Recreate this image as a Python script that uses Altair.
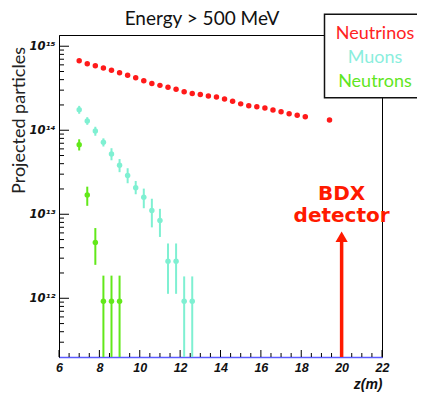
import altair as alt
import pandas as pd

# ---------------- data ----------------
nu_z = [7.0, 7.4, 7.8, 8.2, 8.6, 9.0, 9.4, 9.8, 10.2, 10.6, 11.0, 11.4, 11.8, 12.2, 12.6,
        13.0, 13.4, 13.8, 14.2, 14.6, 15.0, 15.4, 15.8, 16.2, 16.6, 17.0, 17.4, 17.8, 18.2, 19.4]
nu_y = [6.72e14, 6.20e14, 5.87e14, 5.52e14, 5.17e14, 4.82e14, 4.52e14, 4.21e14, 3.88e14, 3.61e14,
        3.42e14, 3.24e14, 3.07e14, 2.88e14, 2.73e14, 2.66e14, 2.56e14, 2.49e14, 2.36e14, 2.22e14,
        2.06e14, 1.96e14, 1.90e14, 1.84e14, 1.74e14, 1.66e14, 1.57e14, 1.51e14, 1.45e14, 1.32e14]

mu_z = [7.0, 7.4, 7.8, 8.2, 8.6, 9.0, 9.4, 9.8, 10.2, 10.6, 11.0, 11.4, 11.8, 12.2, 12.6]
mu_y = [1.75e14, 1.29e14, 9.8e13, 7.19e13, 5.20e13, 3.83e13, 2.90e13, 2.07e13, 1.59e13, 1.105e13,
        8.44e12, 2.75e12, 2.75e12, 9.2e11, 9.2e11]
mu_hi = [1.95e14, 1.43e14, 1.10e14, 8.01e13, 6.11e13, 4.54e13, 3.53e13, 2.49e13, 2.02e13, 1.53e13,
         1.16e13, 4.49e12, 4.49e12, 1.82e12, 1.82e12]
mu_lo = [1.57e14, 1.16e14, 8.6e13, 6.40e13, 4.39e13, 3.17e13, 2.34e13, 1.73e13, 1.18e13, 6.98e12,
         5.37e12, 1.13e12, 1.13e12, 1e11, 1e11]

n_z = [7.0, 7.4, 7.8, 8.2, 8.6, 9.0]
n_y = [6.70e13, 1.69e13, 4.62e12, 9.2e11, 9.2e11, 9.2e11]
n_hi = [7.80e13, 2.13e13, 6.85e12, 1.86e12, 1.86e12, 1.86e12]
n_lo = [5.74e13, 1.26e13, 2.50e12, 1e11, 1e11, 1e11]

series_names = ["Neutrinos", "Muons", "Neutrons"]
series_colors = ["#ff1a1a", "#7ff0d2", "#62e81a"]
legend_text_colors = ["#ff2222", "#8aeedd", "#5fe61f"]

x_tick_labels = [6, 8, 10, 12, 14, 16, 18, 20, 22]
x_minor_ticks = [6.5, 7, 7.5, 8.5, 9, 9.5, 10.5, 11, 11.5, 12.5, 13, 13.5, 14.5, 15, 15.5,
                 16.5, 17, 17.5, 18.5, 19, 19.5, 20.5, 21, 21.5]
y_tick_labels = [1e12, 1e13, 1e14, 1e15]
y_minor_mult = [2, 3, 4, 5, 6, 7, 8, 9]
y_minor_decades = [1e11, 1e12, 1e13, 1e14]
y_minor_ticks = [m * d for d in y_minor_decades for m in y_minor_mult if m * d > 2.05e11]

detector_z = 20
detector_top = 4.66e12
arrow_y = 5.4e12

# ---------------- frames ----------------
nu = pd.DataFrame({"z": nu_z, "y": nu_y, "s": series_names[0]})
mu = pd.DataFrame({"z": mu_z, "y": mu_y, "lo": mu_lo, "hi": mu_hi, "s": series_names[1]})
ne = pd.DataFrame({"z": n_z, "y": n_y, "lo": n_lo, "hi": n_hi, "s": series_names[2]})
pts = pd.concat([nu, mu, ne], ignore_index=True)
errs = pd.concat([mu, ne], ignore_index=True)

W, H = 323, 322

xs = alt.Scale(domain=[6, 22], nice=False, zero=False)
ys = alt.Scale(type="log", domain=[2.0e11, 1.36e15], nice=False)
cs = alt.Scale(domain=series_names, range=series_colors)

xaxis = alt.Axis(values=x_tick_labels, tickSize=0, grid=False, domainColor="#5b5bff",
                 domainWidth=1.5, labelFont="Liberation Sans", labelFontSize=12.5,
                 labelFontWeight="bold", labelFontStyle="italic", labelColor="#111",
                 labelPadding=4, labelFlush=False,
                 title="z(m)", titleFont="Liberation Sans", titleFontSize=14,
                 titleFontWeight="bold", titleFontStyle="italic", titleColor="#111",
                 titleX=W, titleY=31, titleAlign="right", titleBaseline="alphabetic")
yaxis = alt.Axis(values=y_tick_labels, tickSize=0, grid=False, domainColor="#000",
                 domainWidth=1, labelFont="DejaVu Sans", labelFontSize=11.5,
                 labelFontWeight="bold", labelFontStyle="italic", labelColor="#111",
                 labelPadding=4, labelFlush=False,
                 labelExpr="datum.value > 5e14 ? '10\u00b9\u2075' : datum.value > 5e13 ? '10\u00b9\u2074' : datum.value > 5e12 ? '10\u00b9\u00b3' : '10\u00b9\u00b2'",
                 title="Projected particles", titleFont="Lato", titleFontSize=18,
                 titleFontWeight="normal", titleColor="#222", titleAngle=270,
                 titleX=-40, titleY=85, titleAlign="center", titleBaseline="middle")

X = lambda f: alt.X(f, scale=xs, axis=xaxis)
Y = lambda f: alt.Y(f, scale=ys, axis=yaxis)

# ticks pointing inward
ymaj = alt.Chart(pd.DataFrame({"v": y_tick_labels})).mark_rule(color="#000", strokeWidth=1).encode(
    y=Y("v:Q"), x=alt.value(0), x2=alt.value(10))
ymin = alt.Chart(pd.DataFrame({"v": y_minor_ticks})).mark_rule(color="#000", strokeWidth=1).encode(
    y=Y("v:Q"), x=alt.value(0), x2=alt.value(5))
xmaj = alt.Chart(pd.DataFrame({"v": x_tick_labels})).mark_rule(color="#000", strokeWidth=1).encode(
    x=X("v:Q"), y=alt.value(H), y2=alt.value(H - 7))
xmin = alt.Chart(pd.DataFrame({"v": x_minor_ticks})).mark_rule(color="#000", strokeWidth=1).encode(
    x=X("v:Q"), y=alt.value(H), y2=alt.value(H - 4))

bars = alt.Chart(errs).mark_rule(strokeWidth=2, clip=True).encode(
    x=X("z:Q"), y=Y("lo:Q"), y2="hi:Q",
    color=alt.Color("s:N", scale=cs, legend=None))

points = alt.Chart(pts).mark_point(filled=True, opacity=1, size=30, shape="circle").encode(
    x=X("z:Q"), y=Y("y:Q"),
    color=alt.Color("s:N", scale=cs, legend=None))

# BDX detector annotation
det = pd.DataFrame({"z": [detector_z], "lo": [1e11], "top": [detector_top], "ah": [arrow_y],
                    "t1": [1.49e13], "t2": [8.06e12]})
arrow_line = alt.Chart(det).mark_rule(color="#ff1a00", strokeWidth=3.5, clip=True).encode(
    x=X("z:Q"), y=Y("lo:Q"), y2="top:Q")
arrow_head = alt.Chart(det).mark_point(
    shape="triangle-up", filled=True, color="#ff1a00", opacity=1, size=150).encode(
    x=X("z:Q"), y=Y("ah:Q"))
bdx1 = alt.Chart(det).mark_text(
    text="BDX", font="DejaVu Sans", fontWeight="bold", fontSize=20, color="#ff1a00",
    align="center", baseline="alphabetic").encode(x=X("z:Q"), y=Y("t1:Q"))
bdx2 = alt.Chart(det).mark_text(
    text="detector", font="DejaVu Sans", fontWeight="bold", fontSize=20, color="#ff1a00",
    align="center", baseline="alphabetic").encode(x=X("z:Q"), y=Y("t2:Q"))

# title
title = alt.Chart(pd.DataFrame({"a": [0]})).mark_text(
    text="Energy > 500 MeV", font="Lato", fontSize=19, color="#111", align="center",
    baseline="alphabetic").encode(x=alt.value(143), y=alt.value(-10))

# legend box
leg_box = alt.Chart(pd.DataFrame({"a": [0]})).mark_rect(
    fill="white", stroke="#111", strokeWidth=1.5).encode(
    x=alt.value(265.5), x2=alt.value(W + 60), y=alt.value(-20.7), y2=alt.value(62.7))
leg_txt = []
for name, col, yy in zip(series_names, legend_text_colors, [4, 28.3, 51.7]):
    leg_txt.append(alt.Chart(pd.DataFrame({"a": [0]})).mark_text(
        text=name, font="Lato", fontSize=18, color=col, align="center",
        baseline="alphabetic").encode(x=alt.value(316), y=alt.value(yy)))

chart = alt.layer(
    points, ymaj, ymin, xmaj, xmin, bars, arrow_line, arrow_head, bdx1, bdx2,
    title, leg_box, *leg_txt
).properties(
    width=W, height=H,
    autosize=alt.AutoSizeParams(type="none"),
    padding={"left": 51, "top": 27, "right": 35, "bottom": 35},
).configure_view(stroke="#000", strokeWidth=1)

chart.save("out.html", embed_options={"renderer": "svg", "actions": False})
